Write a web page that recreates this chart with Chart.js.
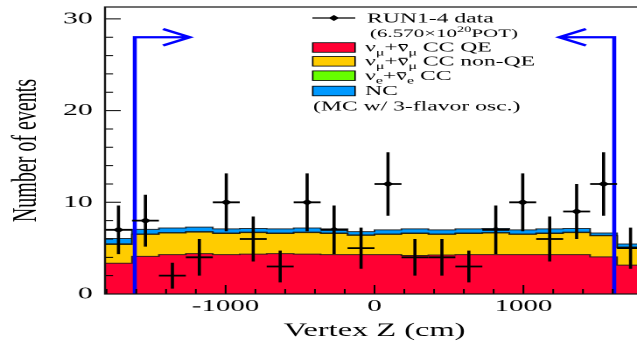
<!DOCTYPE html>
<html>
<head>
<meta charset="utf-8">
<script src="https://cdn.jsdelivr.net/npm/chart.js@4"></script>
<style>
  html, body { margin: 0; padding: 0; background: #fff; overflow: hidden; width: 637px; height: 349px; }
  /* the plot is drawn narrow and widened with CSS, which gives the wide serif look */
  #wrap { width: 372px; height: 349px; transform: scaleX(1.75); transform-origin: 0 0; }
</style>
</head>
<body>
<div id="wrap"><canvas id="grafico"></canvas></div>
<script>
const FONT = "Liberation Serif";

// 20 vertex bins along the beam axis (cm)
const binEdges = [-1810, -1629, -1448, -1267, -1086, -905, -724, -543, -362, -181, 0,
                  181, 362, 543, 724, 905, 1086, 1267, 1448, 1629, 1810];

// observed events and their errors
const dataCounts = [7, 8, 2, 4, 10, 6, 3, 10, 7, 5, 12, 4, 4, 3, 7, 10, 6, 9, 12, 5];
const dataErrors = [2.65, 2.83, 1.41, 2.0, 3.16, 2.45, 1.73, 3.16, 2.65, 2.24,
                    3.46, 2.0, 2.0, 1.73, 2.65, 3.16, 2.45, 3.0, 3.46, 2.24];

// MC expectation per bin, by interaction type
const mcNumuQE    = [3.35, 4.1, 4.3, 4.4, 4.3, 4.35, 4.4, 4.35, 4.3, 4.3,
                     4.3, 4.2, 4.25, 4.3, 4.3, 4.3, 4.3, 4.3, 4.05, 3.15];
const mcNumuNonQE = [2.05, 2.4, 2.35, 2.35, 2.3, 2.35, 2.2, 2.35, 2.3, 2.1,
                     2.2, 2.4, 2.25, 2.3, 2.35, 2.2, 2.3, 2.4, 2.3, 1.9];
const mcNueCC     = [0.08, 0.05, 0.05, 0.05, 0.05, 0.05, 0.05, 0.05, 0.05, 0.05,
                     0.05, 0.05, 0.05, 0.05, 0.05, 0.05, 0.05, 0.05, 0.05, 0.08];
const mcNC        = [0.57, 0.5, 0.5, 0.5, 0.45, 0.4, 0.45, 0.45, 0.45, 0.35,
                     0.45, 0.45, 0.45, 0.45, 0.45, 0.45, 0.45, 0.4, 0.25, 0.32];

// fiducial volume cut and its arrows
const fvCut = [-1610, 1610];
const arrowLevel = 28;
const arrowLength = 370;

// axis ticks: labelled majors, unlabelled minors in between
const yTickLabels = [0, 10, 20, 30];
const yMinorStep = 2;
const xTickLabels = [-1000, 0, 1000];
const xMinorStep = 200;

const binCenters = dataCounts.map((_, i) => (binEdges[i] + binEdges[i + 1]) / 2);

function cumulate(...layers) {
  return layers[0].map((_, i) => layers.reduce((s, l) => s + l[i], 0));
}

function steps(values) {
  return binEdges.map((x, i) => ({ x, y: values[Math.min(i, values.length - 1)] }));
}

// every multiple of step that lies inside the scale range
function tickList(scale, step) {
  const out = [];
  for (let v = Math.ceil(scale.min / step) * step; v <= scale.max; v += step) {
    out.push({ value: v });
  }
  return out;
}

const topQE = cumulate(mcNumuQE);
const topNonQE = cumulate(mcNumuQE, mcNumuNonQE);
const topNue = cumulate(mcNumuQE, mcNumuNonQE, mcNueCC);
const topNC = cumulate(mcNumuQE, mcNumuNonQE, mcNueCC, mcNC);

function mcLayer(values, color, fill) {
  return {
    data: steps(values),
    stepped: "before",
    backgroundColor: color,
    borderColor: "rgba(20,20,20,0.85)",
    borderWidth: 1,
    pointRadius: 0,
    fill: fill
  };
}

const fvArrows = {
  id: "fvArrows",
  afterDatasetsDraw(chart) {
    const { ctx, scales: { x, y } } = chart;
    ctx.save();
    ctx.strokeStyle = "#0000ff";
    ctx.lineWidth = 2.3;
    fvCut.forEach((cut) => {
      const dir = cut < 0 ? 1 : -1;
      const x0 = x.getPixelForValue(cut);
      const tip = x.getPixelForValue(cut + dir * arrowLength);
      const back = x.getPixelForValue(cut + dir * (arrowLength - 180));
      const yBase = y.getPixelForValue(0);
      const yTop = y.getPixelForValue(arrowLevel);
      const dy = yTop - y.getPixelForValue(arrowLevel + 0.9);
      ctx.beginPath();
      ctx.moveTo(x0, yBase);
      ctx.lineTo(x0, yTop);
      ctx.lineTo(tip, yTop);
      ctx.moveTo(back, yTop - dy);
      ctx.lineTo(tip, yTop);
      ctx.lineTo(back, yTop + dy);
      ctx.stroke();
    });
    ctx.restore();
  }
};

const errorBars = {
  id: "errorBars",
  afterDatasetsDraw(chart) {
    const { ctx, scales: { x, y } } = chart;
    ctx.save();
    ctx.strokeStyle = "#000";
    ctx.lineWidth = 1.8;
    dataCounts.forEach((n, i) => {
      const px = x.getPixelForValue(binCenters[i]);
      const py = y.getPixelForValue(n);
      ctx.beginPath();
      ctx.moveTo(x.getPixelForValue(binEdges[i]), py);
      ctx.lineTo(x.getPixelForValue(binEdges[i + 1]), py);
      ctx.moveTo(px, y.getPixelForValue(n - dataErrors[i]));
      ctx.lineTo(px, y.getPixelForValue(n + dataErrors[i]));
      ctx.stroke();
    });
    ctx.restore();
  }
};

// frame plus inward tick marks, ROOT style
const frameTicks = {
  id: "frameTicks",
  afterDatasetsDraw(chart) {
    const { ctx, chartArea: a, scales: { x, y } } = chart;
    ctx.save();
    ctx.strokeStyle = "#000";
    ctx.lineWidth = 1;
    ctx.beginPath();
    y.ticks.forEach((t) => {
      const py = y.getPixelForValue(t.value);
      const len = yTickLabels.includes(t.value) ? 9 : 4.6;
      ctx.moveTo(a.left, py);
      ctx.lineTo(a.left + len, py);
    });
    x.ticks.forEach((t) => {
      const px = x.getPixelForValue(t.value);
      const len = t.value % 1000 === 0 ? 9 : 5;
      ctx.moveTo(px, a.bottom);
      ctx.lineTo(px, a.bottom - len);
    });
    ctx.stroke();
    ctx.lineWidth = 1.2;
    ctx.strokeStyle = "#111";
    ctx.strokeRect(a.left, a.top, a.right - a.left, a.bottom - a.top);
    ctx.restore();
  }
};

function richText(ctx, parts, x, y, size) {
  parts.forEach(([txt, kind]) => {
    const small = kind === "sub" || kind === "sup";
    const fs = small ? size * 0.68 : size;
    ctx.font = `${fs}px "${FONT}"`;
    const dy = kind === "sub" ? size * 0.28 : kind === "sup" ? -size * 0.4 : 0;
    ctx.fillText(txt, x, y + dy);
    const w = ctx.measureText(txt).width;
    if (kind === "bar") ctx.fillRect(x + 0.6, y - size * 0.56, w - 1.2, 1);
    x += w;
  });
}

const legendBox = {
  id: "legendBox",
  afterDraw(chart) {
    const ctx = chart.ctx;
    const size = 13.5;
    ctx.save();
    ctx.fillStyle = "#000";
    ctx.strokeStyle = "#000";
    ctx.textBaseline = "alphabetic";

    // data entry: line with diamond
    ctx.lineWidth = 1.3;
    ctx.beginPath();
    ctx.moveTo(178.5, 18);
    ctx.lineTo(203, 18);
    ctx.stroke();
    ctx.beginPath();
    ctx.moveTo(190.8 - 3, 18);
    ctx.lineTo(190.8, 15);
    ctx.lineTo(190.8 + 3, 18);
    ctx.lineTo(190.8, 21);
    ctx.closePath();
    ctx.fill();
    richText(ctx, [["RUN1-4 data"]], 209.7, 18 + size * 0.33, size);
    richText(ctx, [["(6.570\u00d710"], ["20", "sup"], ["POT)"]], 211.4, 33 + 4, 12);

    const rows = [
      { y: 47.5, color: "#ff0033", parts: [["\u03bd"], ["\u03bc", "sub"], ["+"], ["\u03bd", "bar"], ["\u03bc", "sub"], [" CC QE"]] },
      { y: 61.3, color: "#ffcc00", parts: [["\u03bd"], ["\u03bc", "sub"], ["+"], ["\u03bd", "bar"], ["\u03bc", "sub"], [" CC non-QE"]] },
      { y: 75.7, color: "#66ff00", parts: [["\u03bd"], ["e", "sub"], ["+"], ["\u03bd", "bar"], ["e", "sub"], [" CC"]] },
      { y: 91, color: "#0099ff", parts: [["NC"]] }
    ];
    rows.forEach((r) => {
      ctx.fillStyle = r.color;
      ctx.fillRect(178.7, r.y - 4.8, 24.2, 9.6);
      ctx.lineWidth = 0.8;
      ctx.strokeRect(178.7, r.y - 4.8, 24.2, 9.6);
      ctx.fillStyle = "#000";
      richText(ctx, r.parts, 208.6, r.y + size * 0.3, size);
    });
    richText(ctx, [["(MC w/ 3-flavor osc.)"]], 178.9, 106 + size * 0.33, size);
    ctx.restore();
  }
};

new Chart(document.getElementById("grafico"), {
  type: "line",
  data: {
    datasets: [
      mcLayer(topQE, "#ff0033", "origin"),
      mcLayer(topNonQE, "#ffcc00", "-1"),
      mcLayer(topNue, "#66ff00", "-1"),
      mcLayer(topNC, "#0099ff", "-1"),
      {
        data: dataCounts.map((n, i) => ({ x: binCenters[i], y: n })),
        showLine: false,
        fill: false,
        pointStyle: "rectRot",
        pointRadius: 3.2,
        pointBorderWidth: 0,
        pointBackgroundColor: "#000"
      }
    ]
  },
  options: {
    responsive: true,
    maintainAspectRatio: false,
    devicePixelRatio: 2,
    animation: false,
    events: [],
    layout: { padding: { top: 7, right: 1.7, left: 0, bottom: 0 } },
    plugins: {
      legend: { display: false },
      tooltip: { enabled: false }
    },
    scales: {
      x: {
        type: "linear",
        min: -1810,
        max: 1810,
        grid: { display: false, drawTicks: false },
        border: { display: false },
        afterBuildTicks: (s) => { s.ticks = tickList(s, xMinorStep); },
        ticks: {
          autoSkip: false,
          maxRotation: 0,
          minRotation: 0,
          padding: 3,
          color: "#000",
          font: { family: FONT, size: 16.5 },
          callback: (v) => (xTickLabels.includes(v) ? String(v) : "")
        },
        title: {
          display: true,
          text: "Vertex Z (cm)",
          color: "#000",
          font: { family: FONT, size: 18.5 },
          padding: { top: 0, bottom: 7 }
        },
        afterFit: (s) => {
          s.height = 55;
          s.paddingLeft = 0;
          s.paddingRight = 0;
        }
      },
      y: {
        type: "linear",
        min: 0,
        max: 31.3,
        grid: { display: false, drawTicks: false },
        border: { display: false },
        afterBuildTicks: (s) => { s.ticks = tickList(s, yMinorStep); },
        ticks: {
          autoSkip: false,
          padding: 7,
          color: "#000",
          font: { family: FONT, size: 17 },
          callback: (v) => (yTickLabels.includes(v) ? String(v) : "")
        },
        title: {
          display: true,
          text: "Number of events",
          color: "#000",
          font: { family: FONT, size: 20 },
          padding: { top: 3, bottom: 0 }
        },
        afterFit: (s) => {
          s.width = 60;
          s.paddingTop = 0;
          s.paddingBottom = 0;
        }
      }
    }
  },
  plugins: [fvArrows, errorBars, frameTicks, legendBox]
});
</script>
</body>
</html>
